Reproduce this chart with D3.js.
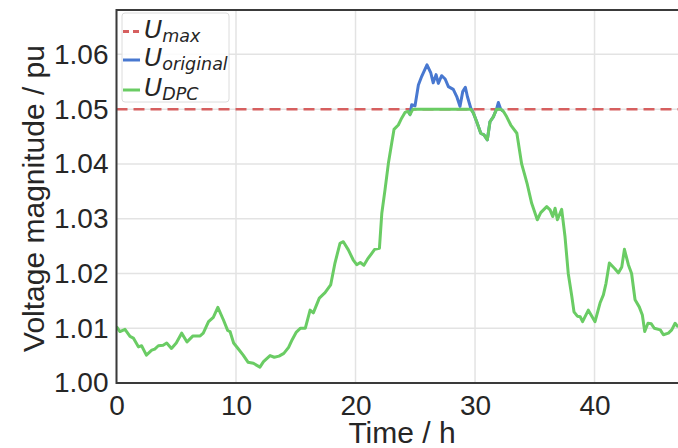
<!DOCTYPE html>
<html>
<head>
<meta charset="utf-8">
<script src="https://cdn.jsdelivr.net/npm/d3@7"></script>
<style>
  html, body { margin: 0; padding: 0; background: #fff; }
  svg { display: block; }
  text { font-family: "Liberation Sans", Arial, sans-serif; fill: #262626; }
  .math { font-family: "DejaVu Sans", sans-serif; font-style: italic; }
</style>
</head>
<body>
<svg id="chart" width="678" height="448"></svg>
<script>
// ---- Data ----
const xTicks = [0, 10, 20, 30, 40];
const yTicks = [1.00, 1.01, 1.02, 1.03, 1.04, 1.05, 1.06];
const uMax = 1.05;

const timeDPC = [0, 0.29, 0.71, 1.13, 1.41, 1.83, 2.1, 2.5, 2.95, 3.2, 3.5, 3.9, 4.2, 4.6, 5.0, 5.45, 5.9, 6.4, 7.0, 7.26,
  7.7, 8.1, 8.48, 8.95, 9.3, 9.5, 9.8, 10.2, 10.6, 11.0, 11.45, 12.0, 12.3, 12.85, 13.2, 13.6, 14.0, 14.4, 14.7, 15.05,
  15.4, 15.8, 16.2, 16.47, 16.97, 17.45, 17.92, 18.28, 18.7, 18.98, 19.4, 19.8, 20.1, 20.4, 20.7, 21.0, 21.3, 21.6, 22.0, 22.2,
  22.47, 22.75, 23.03, 23.22, 23.58, 23.87, 24.14, 24.4, 24.56, 24.8, 29.64, 29.86, 30.14, 30.48, 30.75, 31.03, 31.25, 31.53, 31.8, 32.15,
  32.37, 32.65, 32.99, 33.5, 33.9, 34.18, 34.38, 34.74, 35.21, 35.5, 36.0, 36.28, 36.5, 36.7, 36.89, 37.25, 37.53, 37.8, 38.1, 38.28,
  38.56, 38.8, 39.0, 39.48, 40.04, 40.46, 40.74, 40.96, 41.24, 41.72, 41.99, 42.28, 42.5, 42.83, 43.1, 43.39, 43.74, 44.0, 44.2, 44.47,
  44.75, 45.0, 45.5, 45.76, 46.18, 46.46, 46.74, 47.0];
const uDPC = [1.0103, 1.0094, 1.0098, 1.0085, 1.0082, 1.0066, 1.0068, 1.0051, 1.0060, 1.0062, 1.0068, 1.0069, 1.0073, 1.0063, 1.0073, 1.0091, 1.0075, 1.0086, 1.0086, 1.0091,
  1.0112, 1.0120, 1.0138, 1.0115, 1.0096, 1.0094, 1.0073, 1.0062, 1.0051, 1.0038, 1.0036, 1.0029, 1.0039, 1.0050, 1.0047, 1.0049, 1.0054, 1.0065, 1.0079, 1.0093,
  1.0100, 1.0100, 1.0133, 1.0128, 1.0155, 1.0165, 1.0179, 1.0219, 1.0255, 1.0258, 1.0243, 1.0225, 1.0216, 1.0220, 1.0215, 1.0226, 1.0235, 1.0244, 1.0246, 1.0310,
  1.0353, 1.0401, 1.0438, 1.0463, 1.0471, 1.0484, 1.0494, 1.0496, 1.0490, 1.0500, 1.0500, 1.0493, 1.0477, 1.0456, 1.0453, 1.0444, 1.0477, 1.0486, 1.0500, 1.0500,
  1.0496, 1.0486, 1.0471, 1.0456, 1.0400, 1.0378, 1.0362, 1.0328, 1.0298, 1.0311, 1.0322, 1.0316, 1.0304, 1.0319, 1.0298, 1.0317, 1.0267, 1.0200, 1.0158, 1.0130,
  1.0122, 1.0121, 1.0112, 1.0133, 1.0112, 1.0146, 1.0161, 1.0182, 1.0219, 1.0208, 1.0201, 1.0212, 1.0244, 1.0216, 1.0200, 1.0152, 1.0139, 1.0124, 1.0094, 1.0109,
  1.0108, 1.0100, 1.0097, 1.0088, 1.0091, 1.0097, 1.0109, 1.0102];

// Original voltage (drawn underneath; identical to DPC outside the over-voltage window)
const timeOriginal = [24.4, 24.56, 24.7, 24.98, 25.26, 25.54, 25.98, 26.3, 26.5, 26.74, 26.93, 27.2, 27.5, 27.77, 28.18, 28.47, 28.74, 28.97, 29.19, 29.36,
  29.64, 29.86, 30.14, 30.48, 30.75, 31.03, 31.25, 31.53, 31.8, 31.95, 32.15, 32.37];
const uOriginal = [1.0496, 1.0490, 1.0508, 1.0506, 1.0544, 1.0560, 1.0581, 1.0566, 1.0548, 1.0563, 1.0547, 1.0561, 1.0555, 1.0541, 1.0536, 1.0523, 1.0505, 1.0532, 1.0540, 1.0523,
  1.0502, 1.0493, 1.0477, 1.0456, 1.0453, 1.0444, 1.0477, 1.0486, 1.0500, 1.0512, 1.0500, 1.0496];

const colors = { max: "#d65f5f", original: "#4878d0", dpc: "#6acc64" };

// ---- Layout ----
const svg = d3.select("#chart");
const mLeft = 116.5, mRight = 678.2, mTop = 10, mBottom = 383;
const x = d3.scaleLinear().domain([0, 47]).range([mLeft, mRight]);
const y = d3.scaleLinear().domain([1.0, 1.0681]).range([mBottom, mTop]);

svg.append("defs").append("clipPath").attr("id", "clip")
  .append("rect").attr("x", mLeft).attr("y", mTop).attr("width", 700 - mLeft).attr("height", mBottom - mTop);

// grid
const grid = svg.append("g");
grid.selectAll(".gx").data(xTicks).enter().append("line")
  .attr("x1", d => x(d)).attr("x2", d => x(d)).attr("y1", mTop).attr("y2", mBottom)
  .attr("stroke", "#e3e3e3").attr("stroke-width", 1.5);
grid.selectAll(".gy").data(yTicks).enter().append("line")
  .attr("x1", mLeft).attr("x2", 700).attr("y1", d => y(d)).attr("y2", d => y(d))
  .attr("stroke", "#e3e3e3").attr("stroke-width", 1.5);

// axes (labels only, no tick marks)
const xAxis = d3.axisBottom(x).tickValues(xTicks).tickSize(0).tickPadding(12).tickFormat(d3.format("d"));
const gx = svg.append("g").attr("transform", `translate(0,${mBottom})`).call(xAxis);
gx.select(".domain").remove();
gx.selectAll("text").attr("font-size", 28).attr("font-family", "Liberation Sans, Arial, sans-serif").attr("fill", "#262626");

const yAxis = d3.axisLeft(y).tickValues(yTicks).tickSize(0).tickPadding(8).tickFormat(d3.format(".2f"));
const gy = svg.append("g").attr("transform", `translate(${mLeft},0)`).call(yAxis);
gy.select(".domain").remove();
gy.selectAll("text").attr("font-size", 28).attr("font-family", "Liberation Sans, Arial, sans-serif").attr("fill", "#262626");

// lines
const plot = svg.append("g").attr("clip-path", "url(#clip)");
const line = d3.line().x(d => x(d[0])).y(d => y(d[1]));

plot.append("line")
  .attr("x1", mLeft).attr("x2", 700).attr("y1", y(uMax)).attr("y2", y(uMax))
  .attr("stroke", colors.max).attr("stroke-width", 2.5).attr("stroke-dasharray", "11,6");

plot.append("path").datum(d3.zip(timeOriginal, uOriginal))
  .attr("d", line).attr("fill", "none").attr("stroke", colors.original)
  .attr("stroke-width", 3).attr("stroke-linejoin", "round");

plot.append("path").datum(d3.zip(timeDPC, uDPC))
  .attr("d", line).attr("fill", "none").attr("stroke", colors.dpc)
  .attr("stroke-width", 3).attr("stroke-linejoin", "round");

// spines
svg.append("path")
  .attr("d", `M${700},${mTop}H${mLeft}V${mBottom}H${700}`)
  .attr("fill", "none").attr("stroke", "#3a3a3a").attr("stroke-width", 2);

// axis titles
svg.append("text").attr("x", 402).attr("y", 443).attr("text-anchor", "middle")
  .attr("font-size", 30).text("Time / h");
svg.append("text").attr("transform", `translate(44,${(mTop + mBottom) / 2 + 2}) rotate(-90)`)
  .attr("text-anchor", "middle").attr("font-size", 30).text("Voltage magnitude / pu");

// legend
const legendItems = [
  { sub: "max", color: colors.max, dash: "6,4" },
  { sub: "original", color: colors.original, dash: null },
  { sub: "DPC", color: colors.dpc, dash: null }
];
const lg = svg.append("g");
lg.append("rect").attr("x", 122).attr("y", 13).attr("width", 107).attr("height", 89)
  .attr("rx", 3).attr("fill", "#fff").attr("fill-opacity", 0.85)
  .attr("stroke", "#dcdcdc").attr("stroke-width", 1);
const rowY = [31.5, 60, 90];
legendItems.forEach((it, i) => {
  const cy = rowY[i];
  lg.append("line").attr("x1", 123).attr("x2", 140).attr("y1", cy).attr("y2", cy)
    .attr("stroke", it.color).attr("stroke-width", 3)
    .attr("stroke-dasharray", it.dash);
  const t = lg.append("text").attr("class", "math").attr("x", 144).attr("y", cy + 6)
    .attr("font-size", 25);
  t.append("tspan").text("U");
  t.append("tspan").attr("font-size", 17.5).attr("dy", 4).text(it.sub);
});
</script>
</body>
</html>
